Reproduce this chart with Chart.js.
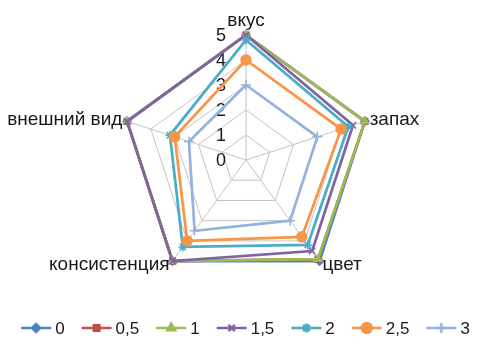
<!DOCTYPE html>
<html>
<head>
<meta charset="utf-8">
<script src="https://cdn.jsdelivr.net/npm/chart.js@4/dist/chart.umd.min.js"></script>
<style>
  html, body { margin: 0; padding: 0; background: #ffffff; }
  #wrap { width: 479px; height: 345px; }
</style>
</head>
<body>
<div id="wrap"><canvas id="c" width="479" height="345"></canvas></div>
<script>
// Sensory scores by attribute
const categories = ['вкус', 'запах', 'цвет', 'консистенция', 'внешний вид'];
const seriesNames = ['0', '0,5', '1', '1,5', '2', '2,5', '3'];
const s0   = [5,   5,   5,   5,   5];
const s05  = [5,   5,   4.9, 5,   5];
const s1   = [5,   5,   4.9, 5,   5];
const s15  = [5,   4.5, 4.5, 5,   5];
const s2   = [4.8, 4.3, 4.2, 4.3, 3.2];
const s25  = [4,   4,   3.8, 4,   3];
const s3   = [3,   3,   3,   3.5, 2.4];
const tickValues = [0, 1, 2, 3, 4, 5];

const seriesData = [s0, s05, s1, s15, s2, s25, s3];
const colors = ['#4F81BD', '#C0504D', '#9BBB59', '#8064A2', '#4BACC6', '#F79646', '#95B3DE'];
const markers = ['rectRot', 'rect', 'triangle', 'crossRot', 'star', 'circle', 'cross'];
const radii = [4, 4, 4.5, 4.5, 4.5, 5, 5];

const FONT = '"Liberation Sans", Arial, sans-serif';
const TEXT = '#1a1a1a';

function marker(ctx, i, x, y) {
  ctx.fillStyle = colors[i];
  ctx.strokeStyle = colors[i];
  Chart.helpers.drawPoint(ctx, { pointStyle: markers[i], radius: radii[i], borderWidth: 1.5, rotation: 0 }, x, y);
  ctx.fill();
}

// value labels placed left of the vertical axis
const tickLabelPlugin = {
  id: 'tickLabels',
  beforeDatasetsDraw(chart) {
    const sc = chart.scales.r;
    const ctx = chart.ctx;
    ctx.save();
    ctx.font = '18px ' + FONT;
    ctx.fillStyle = TEXT;
    ctx.textAlign = 'right';
    ctx.textBaseline = 'middle';
    tickValues.forEach(v => {
      const d = sc.getDistanceFromCenterForValue(v);
      ctx.fillText(String(v), sc.xCenter - 20, sc.yCenter - d + 1);
    });
    ctx.restore();
  }
};

// category names just outside each spoke
const categoryLabelPlugin = {
  id: 'categoryLabels',
  afterDatasetsDraw(chart) {
    const sc = chart.scales.r;
    const ctx = chart.ctx;
    ctx.save();
    ctx.font = '19px ' + FONT;
    ctx.fillStyle = TEXT;
    categories.forEach((name, i) => {
      const p = sc.getPointPosition(i, sc.drawingArea + 5);
      const dx = p.x - sc.xCenter;
      if (Math.abs(dx) < 1) {
        ctx.textAlign = 'center';
        ctx.textBaseline = 'alphabetic';
        ctx.fillText(name, p.x, p.y - 4);
      } else {
        ctx.textAlign = dx > 0 ? 'left' : 'right';
        ctx.textBaseline = 'middle';
        ctx.fillText(name, p.x, p.y);
      }
    });
    ctx.restore();
  }
};

// single-row legend: line with marker, then the series name
const legendRowPlugin = {
  id: 'legendRow',
  afterDraw(chart) {
    const ctx = chart.ctx;
    const lineLen = 30, gapText = 4, gapItem = 17, y = 328;
    ctx.save();
    ctx.font = '17px ' + FONT;
    const widths = seriesNames.map(n => ctx.measureText(n).width);
    const total = widths.reduce((a, w) => a + lineLen + gapText + w, 0) + gapItem * (seriesNames.length - 1);
    let x = (chart.width - total) / 2 + 6;
    seriesNames.forEach((n, i) => {
      ctx.strokeStyle = colors[i];
      ctx.lineWidth = 2.5;
      ctx.beginPath(); ctx.moveTo(x, y); ctx.lineTo(x + lineLen, y); ctx.stroke();
      marker(ctx, i, x + lineLen / 2, y);
      ctx.fillStyle = TEXT;
      ctx.textAlign = 'left';
      ctx.textBaseline = 'middle';
      ctx.fillText(n, x + lineLen + gapText, y + 1);
      x += lineLen + gapText + widths[i] + gapItem;
    });
    ctx.restore();
  }
};

new Chart(document.getElementById('c'), {
  type: 'radar',
  data: {
    labels: categories,
    datasets: seriesData.map((d, i) => ({
      label: seriesNames[i],
      data: d,
      order: seriesData.length - i,
      borderColor: colors[i],
      backgroundColor: colors[i],
      borderWidth: 2.75,
      fill: false,
      pointStyle: markers[i],
      pointRadius: radii[i],
      pointBorderWidth: 1.5,
      pointBackgroundColor: colors[i],
      pointBorderColor: colors[i]
    }))
  },
  options: {
    responsive: false,
    animation: false,
    layout: { padding: { top: 35, left: 13, right: 0, bottom: 60 } },
    scales: {
      r: {
        min: 0,
        max: 5,
        ticks: { stepSize: 1, display: false },
        grid: { color: '#c4c4c4', lineWidth: 1 },
        angleLines: { color: '#c4c4c4', lineWidth: 1 },
        pointLabels: { display: false }
      }
    },
    plugins: {
      tooltip: { enabled: false },
      legend: { display: false }
    }
  },
  plugins: [tickLabelPlugin, categoryLabelPlugin, legendRowPlugin]
});
</script>
</body>
</html>
